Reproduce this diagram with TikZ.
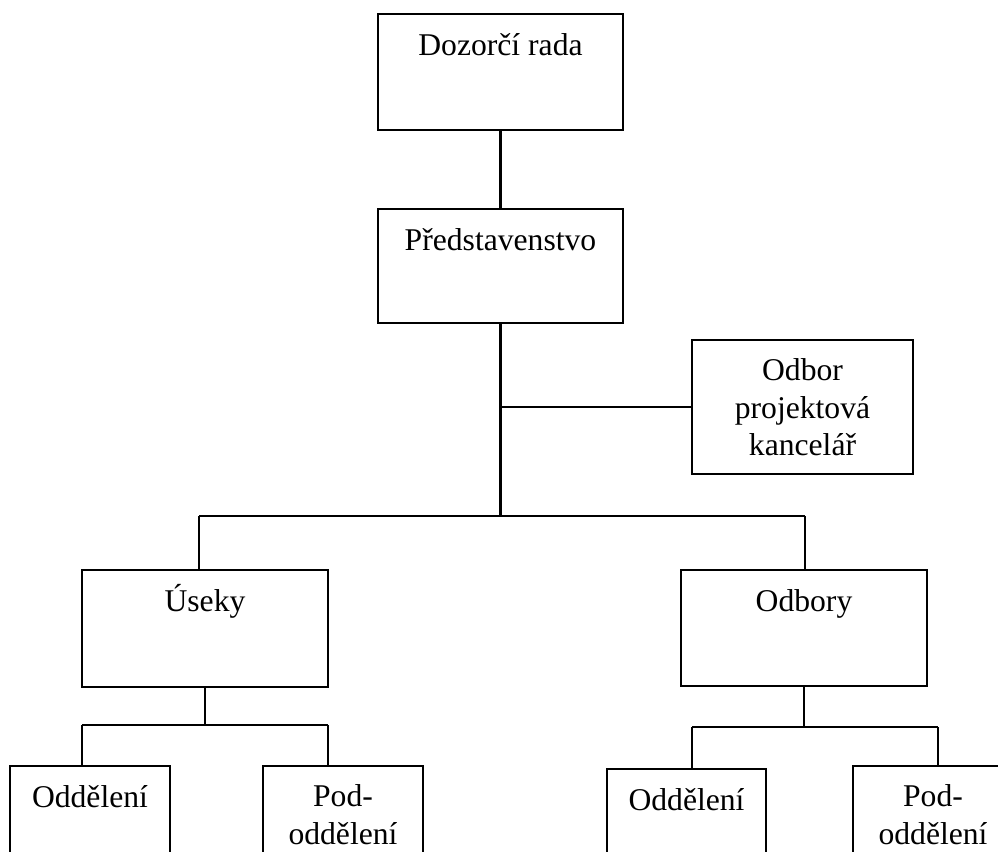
\documentclass[tikz,border=0pt]{standalone}
\usepackage{fontspec}
\setmainfont{Liberation Serif}
\begin{document}
\begin{tikzpicture}[x=0.025cm, y=-0.025cm, line width=1.5pt,
    orgbox/.style={draw, anchor=north, align=center, inner sep=0pt,
      text height=1.025cm, font=\fontsize{22.5}{26.5}\selectfont}]
    \useasboundingbox (0,0) rectangle (998,852);
    \clip (0,0) rectangle (998,852);
    % upper boxes
    \node[orgbox, minimum width=6.125cm, text depth=1.875cm] (dozor) at (500.5,13) {Dozorčí rada};
    \node[orgbox, minimum width=6.125cm, text depth=1.825cm] (pred) at (500.5,208) {Představenstvo};
    \node[orgbox, minimum width=5.525cm, text height=82.1pt, text depth=13.2pt] (odbor) at (802.5,339) {Odbor\\projektová\\kancelář};
    \node[orgbox, minimum width=6.15cm, text depth=1.9cm] (useky) at (205,569) {Úseky};
    \node[orgbox, minimum width=6.15cm, text depth=1.875cm] (odbory) at (804,569) {Odbory};
    % lower boxes
    \node[orgbox, minimum width=4cm, text depth=3cm] (odd1) at (90,765) {Oddělení};
    \node[orgbox, minimum width=4cm, text height=55.6pt, text depth=60pt] (pod1) at (343,765) {Pod-\\oddělení};
    \node[orgbox, minimum width=3.975cm, text depth=3cm] (odd2) at (686.5,768) {Oddělení};
    \node[orgbox, minimum width=4cm, text height=55.6pt, text depth=60pt] (pod2) at (933,765) {Pod-\\oddělení};
    % junctions
    \coordinate (tl) at (199,516);
    \coordinate (tr) at (805,516);
    \coordinate (ll) at (82,725);
    \coordinate (lr) at (328,725);
    \coordinate (rl) at (692,727);
    \coordinate (rr) at (938,727);
    \draw (dozor.south) -- (pred.north);
    \draw (pred.south) -- (pred.south |- tl);
    \draw (pred.south |- odbor.west) -- (odbor.west);
    \draw (tl) -- (tr);
    \draw (tl) -- (tl |- useky.north);
    \draw (tr) -- (tr |- odbory.north);
    \draw (useky.south) -- (useky.south |- ll);
    \draw (ll) -- (lr);
    \draw (ll) -- (ll |- odd1.north);
    \draw (lr) -- (lr |- pod1.north);
    \draw (odbory.south) -- (odbory.south |- rl);
    \draw (rl) -- (rr);
    \draw (rl) -- (rl |- odd2.north);
    \draw (rr) -- (rr |- pod2.north);
\end{tikzpicture}
\end{document}
